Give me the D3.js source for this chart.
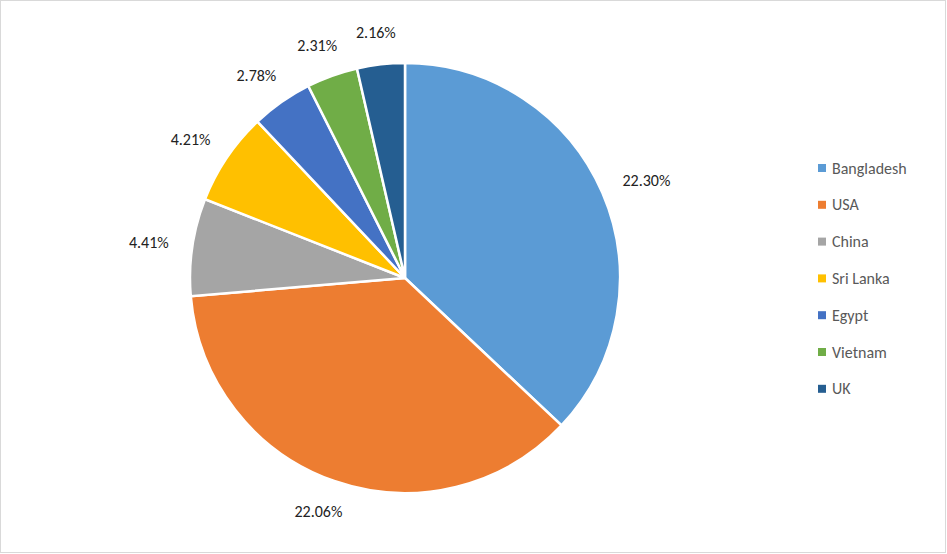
<!DOCTYPE html>
<html><head><meta charset="utf-8">
<script src="https://cdn.jsdelivr.net/npm/d3@7"></script>
<style>body{margin:0;background:#fff}</style>
</head><body>
<svg id="c" width="947" height="554"></svg>
<script>
const categories=["Bangladesh","USA","China","Sri Lanka","Egypt","Vietnam","UK"];
const values=[22.30,22.06,4.41,4.21,2.78,2.31,2.16];
const colors=["#5B9BD5","#ED7D31","#A5A5A5","#FFC000","#4472C4","#70AD47","#255E91"];
const font="Calibri, Carlito, 'Liberation Sans', sans-serif";
const svg=d3.select("#c");
svg.append("rect").attr("x",0.5).attr("y",0.5).attr("width",945).attr("height",552).attr("fill","#fff").attr("stroke","#D9D9D9");
const cx=405,cy=278,r=215;
const pie=d3.pie().sort(null).value(d=>d)(values);
const arc=d3.arc().innerRadius(0).outerRadius(r);
const g=svg.append("g").attr("transform",`translate(${cx},${cy})`);
g.selectAll("path").data(pie).join("path").attr("d",arc).attr("fill",(d,i)=>colors[i]).attr("stroke","#fff").attr("stroke-width",2.5);
const lr=r+24;
g.selectAll("text").data(pie).join("text")
 .attr("font-family",font).attr("font-size",16).attr("fill","#222").attr("text-anchor","middle").attr("dy","0.35em")
 .text(d=>d.data.toFixed(2)+"%")
 .each(function(d){
   const t=(d.startAngle+d.endAngle)/2, s=Math.sin(t), c=Math.cos(t);
   const w=this.getComputedTextLength(), h=16;
   const x=lr*s+w/2*s, y=-lr*c-h/2*c;
   d3.select(this).attr("x",x).attr("y",y);
 });
const lg=svg.append("g").attr("transform","translate(818,168)");
categories.forEach((c,i)=>{
 const y=i*36.8;
 lg.append("rect").attr("x",0).attr("y",y-4).attr("width",8).attr("height",8).attr("fill",colors[i]);
 lg.append("text").attr("x",14).attr("y",y).attr("dy","0.35em").attr("font-family",font).attr("font-size",16).attr("fill","#595959").text(c);
});
</script>
</body></html>
